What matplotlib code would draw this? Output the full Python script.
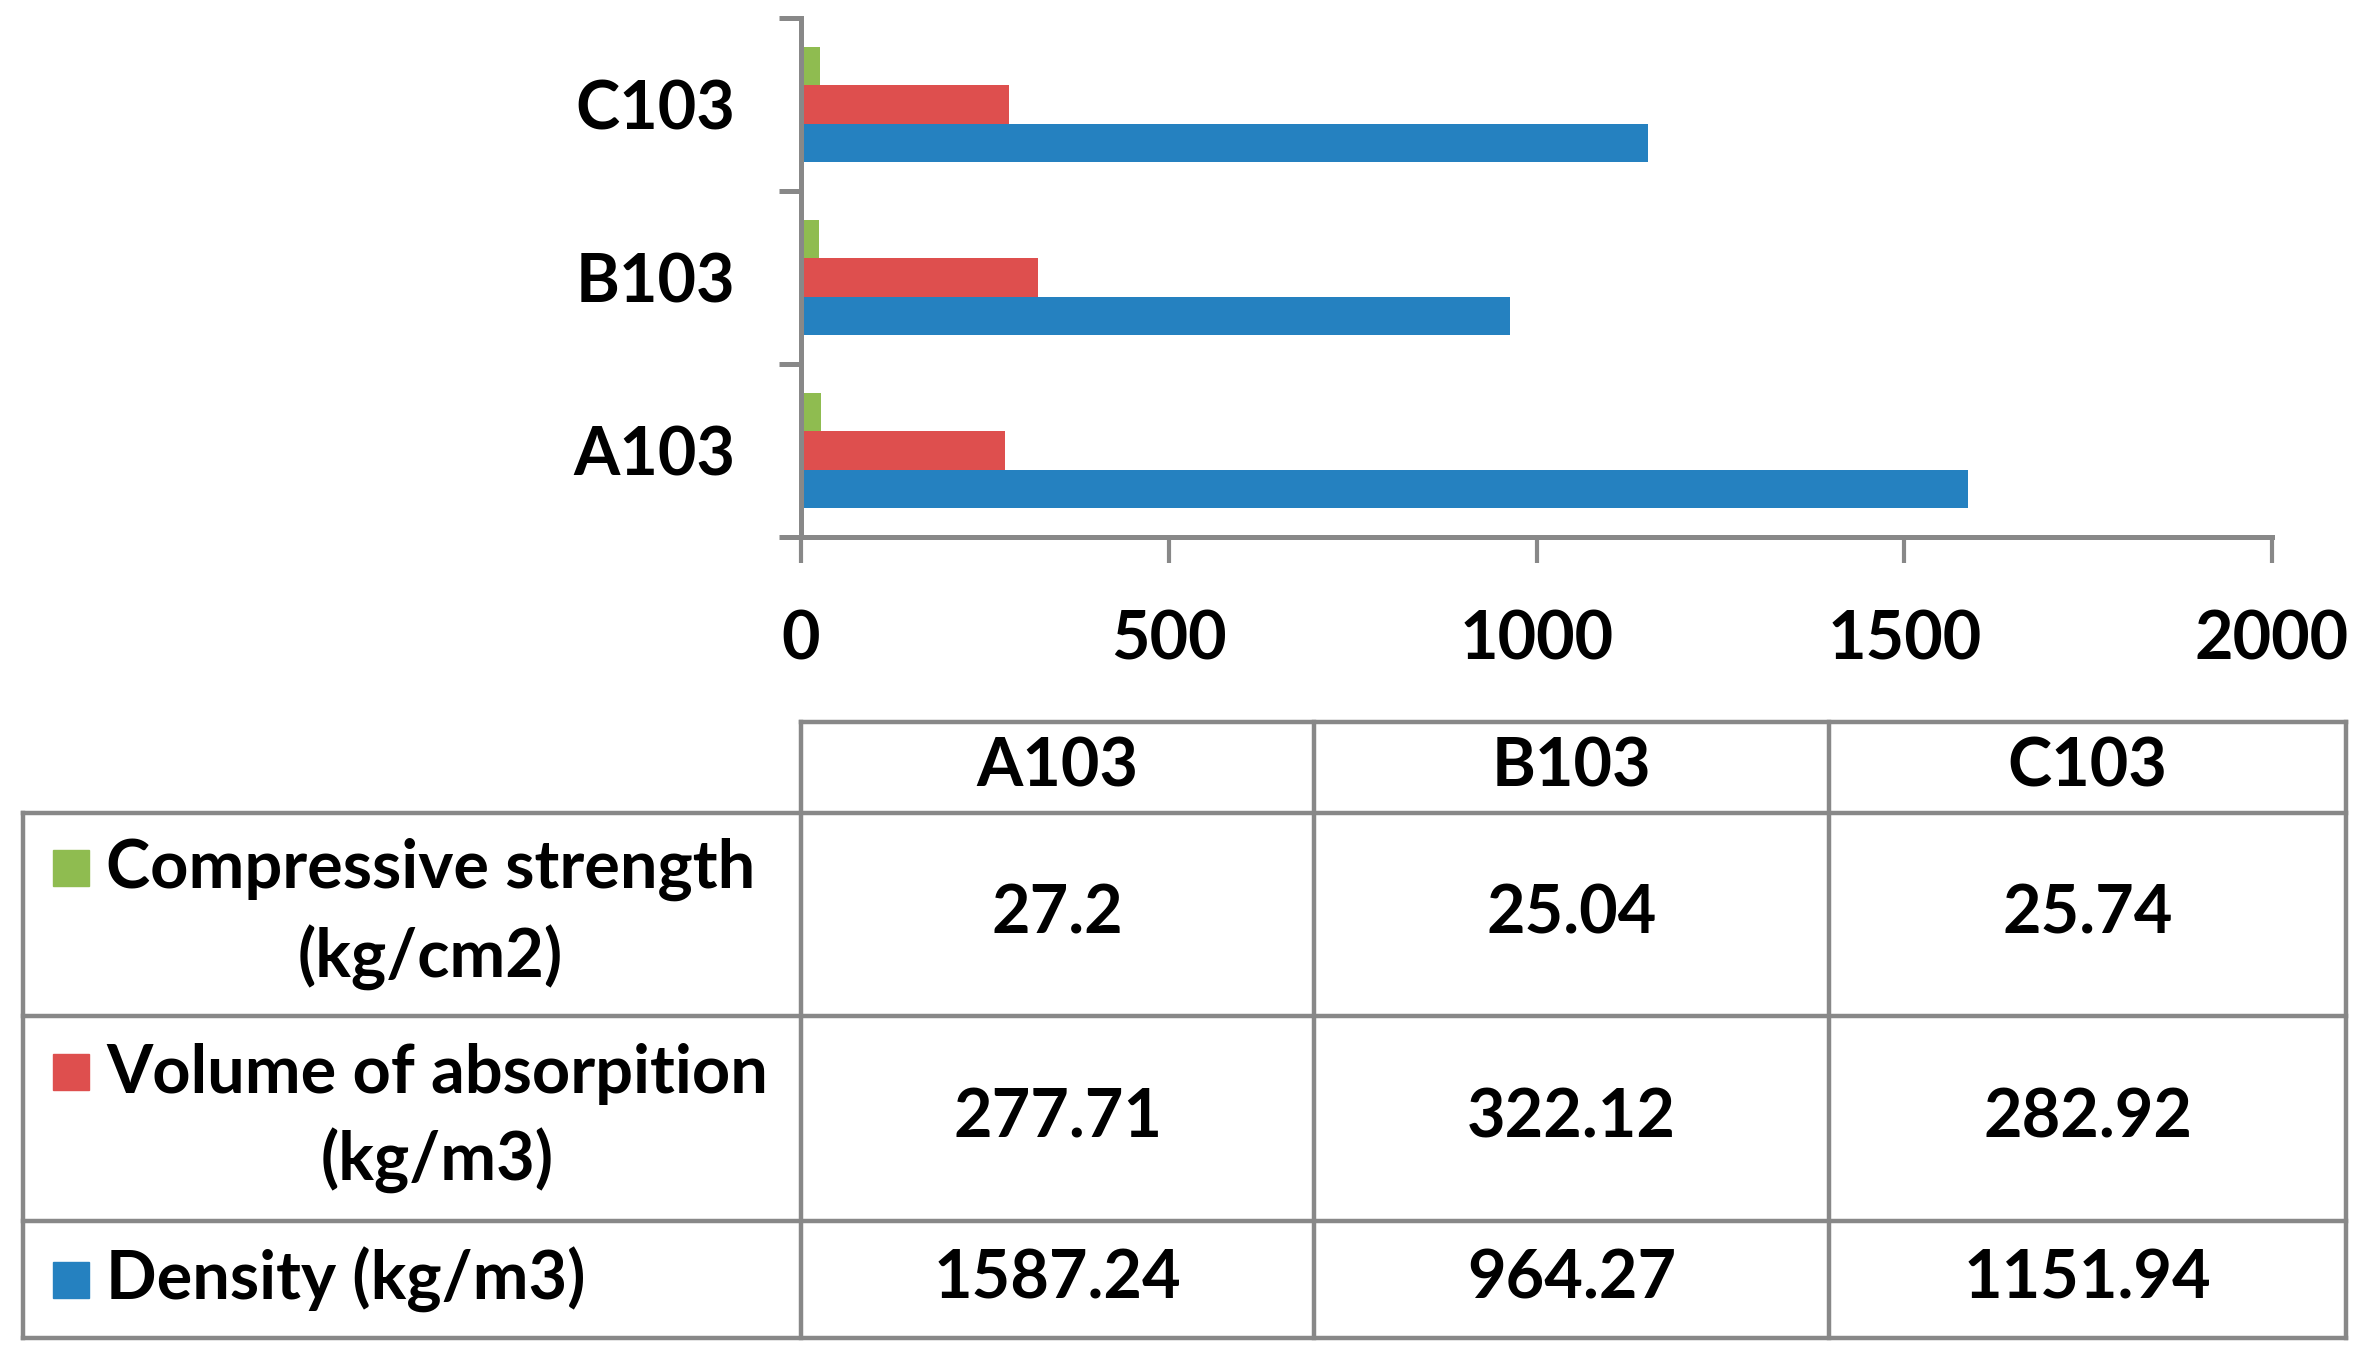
import matplotlib
matplotlib.use("Agg")
import matplotlib.pyplot as plt
from matplotlib.patches import Rectangle
import numpy as np

# Data
categories = ["A103", "B103", "C103"]
series_names = ["Compressive strength\n(kg/cm2)",
                "Volume of absorpition\n(kg/m3)",
                "Density (kg/m3)"]
strength = [27.2, 25.04, 25.74]
absorption = [277.71, 322.12, 282.92]
density = [1587.24, 964.27, 1151.94]
x_ticks = [0, 500, 1000, 1500, 2000]

colors = ["#8FBC50", "#DE4F4E", "#2581C0"]
GREY = "#888888"
W, H = 2370, 1361

plt.rcParams["font.family"] = ["Lato", "DejaVu Sans"]
plt.rcParams["font.weight"] = "bold"
FS = 48


def plot_chart():
    fig = plt.figure(figsize=(W / 100, H / 100), dpi=100)

    # --- bar chart ---
    ax = fig.add_axes([801 / W, 1 - 537 / H, (2272 - 801) / W, (537 - 18) / H])
    y = np.arange(len(categories))
    h = 1 / 4.5
    all_series = [strength, absorption, density]
    offsets = [h, 0, -h]
    for vals, off, c in zip(all_series, offsets, colors):
        ax.barh(y + off, vals, height=h, color=c, edgecolor="none", zorder=2)

    ax.set_xlim(0, 2000)
    ax.set_ylim(-0.5, len(categories) - 0.5)
    ax.set_xticks(x_ticks)
    ax.set_xticklabels([str(t) for t in x_ticks], fontsize=FS, fontweight="bold")
    ax.set_yticks(y)
    ax.set_yticklabels(categories, fontsize=FS, fontweight="bold")
    ax.set_yticks(np.arange(len(categories) + 1) - 0.5, minor=True)

    for s in ["top", "right"]:
        ax.spines[s].set_visible(False)
    for s in ["left", "bottom"]:
        ax.spines[s].set_color(GREY)
        ax.spines[s].set_linewidth(3.6)
    ax.tick_params(axis="y", which="major", length=0, pad=47)
    ax.tick_params(axis="y", which="minor", length=16, width=3.6, color=GREY)
    ax.tick_params(axis="x", length=19, width=3.0, color=GREY, pad=33)

    # --- data table underneath ---
    tax = fig.add_axes([0, 0, 1, 1])
    tax.set_xlim(0, W)
    tax.set_ylim(H, 0)
    tax.axis("off")
    tax.patch.set_alpha(0)

    col_x = [801, 1314, 1829, 2346]
    row_y = [722, 813, 1016, 1221, 1338]
    left_x = 23
    lw = 3.2
    tax.plot([col_x[0], col_x[-1]], [row_y[0], row_y[0]], color=GREY, lw=lw)
    for yy in row_y[1:]:
        tax.plot([left_x, col_x[-1]], [yy, yy], color=GREY, lw=lw)
    tax.plot([left_x, left_x], [row_y[1], row_y[-1]], color=GREY, lw=lw)
    for xx in col_x:
        tax.plot([xx, xx], [row_y[0], row_y[-1]], color=GREY, lw=lw)

    # header
    for i, cat in enumerate(categories):
        cx = (col_x[i] + col_x[i + 1]) / 2
        tax.text(cx, (row_y[0] + row_y[1]) / 2, cat, ha="center", va="center",
                 fontsize=FS, fontweight="bold")

    # rows
    for r, (name, vals, c) in enumerate(zip(series_names, all_series, colors)):
        cy = (row_y[r + 1] + row_y[r + 2]) / 2
        tax.text(106, cy, name, ha="left", va="center", ma="center",
                 fontsize=FS, fontweight="bold", linespacing=1.45)
        sq_y = cy - 47 if "\n" in name else cy
        tax.add_patch(Rectangle((53, sq_y - 18), 36, 36, color=c))
        for i, v in enumerate(vals):
            cx = (col_x[i] + col_x[i + 1]) / 2
            tax.text(cx, cy, f"{v:g}", ha="center", va="center",
                     fontsize=FS, fontweight="bold")

    fig.savefig("out.png", dpi=100)


if __name__ == "__main__":
    plot_chart()
